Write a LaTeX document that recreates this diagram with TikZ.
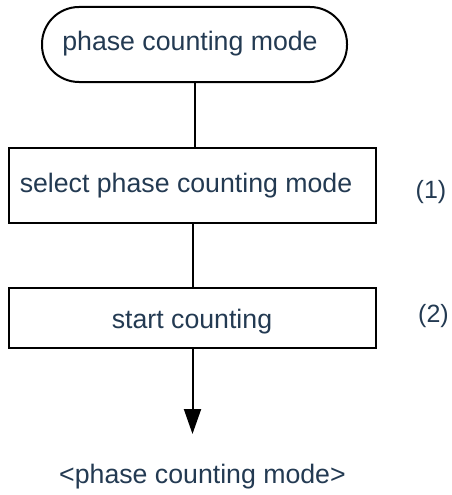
\documentclass[tikz,border=0pt]{standalone}
\usepackage{fontspec}
\setmainfont{Liberation Sans}
\usetikzlibrary{arrows.meta}
\definecolor{txtc}{HTML}{233A52}
\begin{document}
\begin{tikzpicture}[x=1pt,y=-1pt,
  every node/.style={font=\fontsize{26.7}{32}\selectfont,text=txtc,inner sep=0pt},
  term/.style={draw=black,line width=2pt,rounded corners=37pt,minimum width=305pt,minimum height=75pt},
  procbox/.style={draw=black,line width=2pt,minimum width=367pt},
  conn/.style={draw=black,line width=2pt},
  numlabel/.style={font=\fontsize{25}{30}\selectfont}]
\useasboundingbox (0,0) rectangle (451,495);
\node[term] (t) at (194.5,44.5) {};
\node (tt) at (190,44) {phase counting mode};
\node[procbox,minimum height=75pt] (b1) at (192.5,185.5) {};
\node (b1t) at (186,186) {select phase counting mode};
\node[procbox,minimum height=60pt] (b2) at (192.5,318) {};
\node (b2t) at (192,322) {start counting};
\node[numlabel] (n1) at (431,192) {(1)};
\node[numlabel] (n2) at (433.5,316) {(2)};
\coordinate (end) at (192.5,434);
\node (out) at (202.5,477) {<phase counting mode>};
\draw[conn] (t.south) -- (t.south |- b1.north);
\draw[conn] (b1.south) -- (b2.north);
\draw[conn,-{Triangle[width=17pt,length=25pt]}] (b2.south) -- (end);
\end{tikzpicture}
\end{document}
